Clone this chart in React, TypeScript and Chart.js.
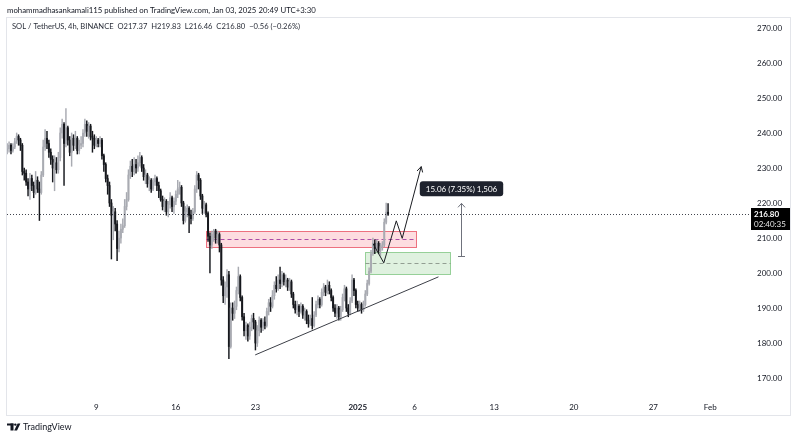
import React, { useEffect, useRef } from "react";
import { Chart, registerables } from "chart.js";

Chart.register(...registerables);

const FONT = "Lato, 'Noto Sans', sans-serif";
const TEXT = "#131722";

// ---- data (4h candles, x in days: Dec 1 = 1, Jan 1 = 32, Feb 1 = 63) ----
const LAST_CANDLE_DAY = 34 + 16 / 24;
const CANDLE_STEP_DAYS = 4 / 24;
const FIRST_OPEN = 235.0;

const closes = [
  235.5, 236.5, 235.0,
  236.0, 237.5, 239.0, 238.0, 236.5, 229.0, 228.5, 226.0, 224.0, 227.0,
  225.0, 223.0, 226.5, 224.0, 223.0, 228.0, 236.0, 238.5, 237.0, 234.5,
  232.5, 230.0, 231.5, 229.5, 233.0, 240.0, 242.5, 237.0, 241.5, 238.0,
  234.5, 238.5, 236.5, 238.5, 235.0, 236.5, 237.0, 240.0, 242.5, 240.5,
  242.0, 239.0, 238.5, 236.5, 238.0, 237.0, 238.0, 233.5, 231.0, 227.0,
  225.0, 220.0, 216.5, 217.5, 214.0, 207.0, 210.0, 212.5, 213.5, 219.0,
  221.0, 228.0, 230.5, 229.0, 231.0, 230.0, 231.5, 233.0, 230.0, 227.5,
  228.0, 225.5, 226.5, 224.0, 226.0, 227.0, 225.0, 223.5, 221.0, 219.0,
  220.5, 217.5, 219.5, 221.5, 219.0, 220.5, 222.5, 224.0, 224.5, 220.0,
  215.0, 217.5, 218.5, 216.5, 215.5, 217.5, 224.0, 228.0, 226.5, 222.0,
  218.5, 219.5, 217.0, 210.5, 208.0, 211.0, 212.0, 210.0, 211.0, 208.0,
  198.0, 193.5, 196.0, 199.5, 179.0, 190.0, 188.5, 190.5, 195.0, 199.0,
  193.0, 187.5, 183.5, 185.0, 182.0, 184.5, 187.0, 186.0, 180.0, 183.5,
  186.5, 184.5, 186.0, 185.0, 189.0, 191.5, 190.5, 193.5, 196.5, 195.5,
  198.0, 197.0, 199.5, 197.5, 198.0, 196.0, 197.5, 194.0, 191.0, 189.5,
  190.5, 189.0, 190.5, 188.0, 189.0, 186.5, 185.5, 187.0, 185.0, 188.0,
  191.0, 192.5, 191.0, 194.5, 196.0, 194.5, 196.5, 195.0, 193.0, 190.0,
  188.5, 190.0, 187.5, 189.5, 193.0, 195.5, 190.0, 188.5, 192.0, 198.0,
  195.0, 191.0, 190.0, 191.0, 189.5, 191.0, 194.0, 197.0, 200.5, 205.5,
  208.5, 207.0, 208.5, 206.5, 207.5, 208.0, 214.5, 217.37, 216.8,
];

const highs = [
  237.0, 237.5, 237.0,
  237, 238.5, 240, 239.5, 238.5, 237, 230, 229.5, 227, 228.5,
  228, 226, 229, 227.5, 226, 229, 238, 241, 240.5, 238,
  235.5, 233.5, 233.5, 233, 234.5, 241.5, 244, 243, 247, 242,
  239, 240, 239.5, 240.5, 239, 238, 239, 241, 244, 243.5,
  243, 242.5, 240.5, 239.5, 239, 238.5, 239, 238.5, 234, 231.5,
  228, 226, 221, 219, 218.5, 215, 212, 214, 215.5, 221,
  223, 229.5, 232, 232.5, 233, 232.5, 233.5, 234.5, 233.5, 231,
  229.5, 228.5, 227.5, 227, 227, 228, 227.5, 226, 224, 222,
  221.5, 221, 220.5, 223, 222, 221.5, 223.5, 226.5, 226, 225,
  220.5, 219, 219.5, 219, 218, 218.5, 225, 229, 228.5, 227,
  222.5, 220.5, 220, 217.5, 211.5, 212, 212.5, 212.5, 212, 211.5,
  208.5, 199, 197.5, 201, 200.5, 191.5, 191.5, 192, 196, 201.7,
  199.5, 193.5, 188.5, 186, 185.5, 186, 188, 188.5, 186.5, 185,
  187.5, 187, 187, 187.5, 190, 192.5, 193, 195, 197.5, 199,
  199.5, 201.7, 200.5, 200, 199.5, 198.5, 198.5, 198, 194.5, 192,
  192, 191, 191.5, 191, 190, 189.5, 188, 188, 193, 189,
  192, 193.5, 193, 195.5, 197, 196.5, 198, 197.5, 195.5, 193.5,
  191, 191, 190.5, 190.5, 194, 196.5, 196, 191, 193, 199.5,
  198.5, 195.5, 192, 192, 191.5, 192, 195, 198, 201.5, 206.5,
  210, 209.5, 209.5, 209, 208.5, 209, 215.5, 220, 219.83,
];

const lows = [
  234, 234.5, 234,
  234.5, 235.5, 237, 236.5, 235, 228, 226.5, 225, 222, 221,
  223.5, 221.5, 222.5, 223, 215, 222.5, 227.5, 235, 235.5, 233,
  231, 226, 223.5, 228.5, 228.5, 232, 238.5, 225, 236, 236.5,
  233.5, 230.5, 235, 235.5, 234, 234, 235.5, 236, 239, 239,
  238.5, 238, 234.5, 235.5, 236, 236, 236, 232.5, 229, 226,
  222.5, 219, 204, 209.5, 212, 203.5, 206, 208.5, 211.5, 213,
  218, 220.5, 227, 227.5, 228, 228.5, 229, 230.5, 229, 226.5,
  225.5, 224.5, 223.5, 223, 223.5, 225, 223.5, 221.5, 220.5, 218,
  217.5, 216.5, 216, 218.5, 217.5, 217, 219.5, 221.5, 222.5, 219,
  214, 214.5, 216, 211.5, 214, 215, 217, 223, 224, 221,
  217, 217, 216, 209, 200, 207, 209, 208.5, 208.5, 206,
  196.5, 191.5, 191, 193, 175.5, 178.5, 186.5, 187, 189.5, 194,
  192, 186.5, 182, 181, 180.5, 181, 183.5, 184, 178, 179,
  182, 183, 183.5, 184, 184.5, 188, 189, 190, 192.5, 194.5,
  195, 195.5, 196, 196.5, 196, 195, 195, 193, 190, 188.5,
  188, 187.5, 188.5, 187, 186.5, 185.5, 184.5, 185, 184, 184.5,
  187.5, 190, 190, 190.5, 193.5, 193.5, 194, 194, 192, 189,
  187.5, 187, 186.5, 186.5, 189, 192, 189, 187.5, 188, 191.5,
  193.5, 190, 189, 189, 188.5, 189, 190.5, 193.5, 196.5, 200,
  205, 205.5, 206, 205.5, 205, 206.5, 207.5, 214, 216.46,
];

const xTickDays = [9, 16, 23, 32, 37, 44, 51, 58, 63];
const xTickLabels = ["9", "16", "23", "2025", "6", "13", "20", "27", "Feb"];
const yTickValues = [170, 180, 190, 200, 210, 220, 230, 240, 250, 260, 270];

const lastPrice = 216.8;
const countdownText = "02:40:35";

const redZoneDays = [18.67, 37.14];
const redZonePrices = [207.3, 212.1];
const greenZoneDays = [32.6, 40.11];
const greenZonePrices = [199.6, 205.9];
const trendDays = [22.98, 39.1];
const trendPrices = [176.6, 198.9];
const pathDays = [33.36, 34.29, 35.39, 35.91, 37.58];
const pathPrices = [208.3, 202.9, 214.9, 209.9, 230.4];
const measureDay = 41.08;
const measurePrices = [204.9, 219.9];
const measureLabel = "15.06 (7.35%) 1,506";

const headerText = "mohammadhasankamali115 published on TradingView.com, Jan 03, 2025 20:49 UTC+3:30";
const legendText = "SOL / TetherUS, 4h, BINANCE  O217.37  H219.83  L216.46  C216.80  \u22120.56 (\u22120.26%)";

const UP_COLOR = "#a9abb2";
const DOWN_COLOR = "#16181d";

function buildCandles() {
  const n = closes.length;
  return closes.map((c, i) => {
    const o = i === 0 ? FIRST_OPEN : closes[i - 1];
    const t = LAST_CANDLE_DAY - (n - 1 - i) * CANDLE_STEP_DAYS;
    const hi = Math.max(highs[i], o, c);
    const lo = Math.min(lows[i], o, c);
    return { t, o, c, hi, lo };
  });
}

const annotationPlugin = {
  id: "tvAnnotations",
  beforeDatasetsDraw(chart: any) {
    const { ctx, chartArea, scales } = chart;
    const x = scales.x;
    const y = scales.y;
    ctx.save();
    ctx.beginPath();
    ctx.rect(chartArea.left, chartArea.top, chartArea.right - chartArea.left, chartArea.bottom - chartArea.top);
    ctx.clip();
    const zone = (days: number[], prices: number[], fill: string, stroke: string, midStroke: string) => {
      const x0 = Math.round(x.getPixelForValue(days[0])) + 0.5;
      const x1 = Math.round(x.getPixelForValue(days[1])) + 0.5;
      const y0 = Math.round(y.getPixelForValue(prices[1])) + 0.5;
      const y1 = Math.round(y.getPixelForValue(prices[0])) + 0.5;
      ctx.fillStyle = fill;
      ctx.fillRect(x0, y0, x1 - x0, y1 - y0);
      ctx.strokeStyle = stroke;
      ctx.lineWidth = 1;
      ctx.setLineDash([]);
      ctx.strokeRect(x0, y0, x1 - x0, y1 - y0);
      const ym = Math.round(y.getPixelForValue((prices[0] + prices[1]) / 2)) + 0.5;
      ctx.strokeStyle = midStroke;
      ctx.setLineDash([4, 3]);
      ctx.beginPath();
      ctx.moveTo(x0, ym);
      ctx.lineTo(x1, ym);
      ctx.stroke();
      ctx.setLineDash([]);
    };
    zone(redZoneDays, redZonePrices, "rgba(242,54,69,0.17)", "rgba(230,60,80,0.7)", "rgba(150,40,150,0.8)");
    zone(greenZoneDays, greenZonePrices, "rgba(76,175,80,0.18)", "rgba(76,175,80,0.55)", "rgba(120,130,120,0.75)");
    ctx.restore();
  },
  afterDatasetsDraw(chart: any) {
    const { ctx, chartArea, scales } = chart;
    const x = scales.x;
    const y = scales.y;
    ctx.save();
    // last price dotted line
    const py = Math.round(y.getPixelForValue(lastPrice)) + 0.5;
    ctx.strokeStyle = "rgba(19,23,34,0.8)";
    ctx.lineWidth = 1;
    ctx.setLineDash([1, 2]);
    ctx.beginPath();
    ctx.moveTo(chartArea.left, py);
    ctx.lineTo(chartArea.right, py);
    ctx.stroke();
    ctx.setLineDash([]);

    // trend line
    ctx.strokeStyle = "#3c3f47";
    ctx.lineWidth = 1;
    ctx.beginPath();
    ctx.moveTo(x.getPixelForValue(trendDays[0]), y.getPixelForValue(trendPrices[0]));
    ctx.lineTo(x.getPixelForValue(trendDays[1]), y.getPixelForValue(trendPrices[1]));
    ctx.stroke();

    // projection path with arrow
    ctx.strokeStyle = "#1b1d22";
    ctx.beginPath();
    pathDays.forEach((d, i) => {
      const px = x.getPixelForValue(d);
      const pyy = y.getPixelForValue(pathPrices[i]);
      if (i === 0) ctx.moveTo(px, pyy);
      else ctx.lineTo(px, pyy);
    });
    ctx.stroke();
    const n = pathDays.length;
    const ex = x.getPixelForValue(pathDays[n - 1]);
    const ey = y.getPixelForValue(pathPrices[n - 1]);
    const sx = x.getPixelForValue(pathDays[n - 2]);
    const sy = y.getPixelForValue(pathPrices[n - 2]);
    const ang = Math.atan2(ey - sy, ex - sx);
    const al = 6;
    ctx.beginPath();
    ctx.moveTo(ex - al * Math.cos(ang - 0.5), ey - al * Math.sin(ang - 0.5));
    ctx.lineTo(ex, ey);
    ctx.lineTo(ex - al * Math.cos(ang + 0.5), ey - al * Math.sin(ang + 0.5));
    ctx.stroke();

    // measure tool
    const mx = Math.round(x.getPixelForValue(measureDay)) + 0.5;
    const mTop = y.getPixelForValue(measurePrices[1]);
    const mBot = Math.round(y.getPixelForValue(measurePrices[0])) + 0.5;
    ctx.strokeStyle = "#6f727c";
    ctx.beginPath();
    ctx.moveTo(mx, mTop);
    ctx.lineTo(mx, mBot);
    ctx.moveTo(mx - 3.5, mTop + 4);
    ctx.lineTo(mx, mTop);
    ctx.lineTo(mx + 3.5, mTop + 4);
    ctx.moveTo(mx - 3.5, mBot);
    ctx.lineTo(mx + 3.5, mBot);
    ctx.stroke();
    ctx.font = `8px ${FONT}`;
    const tw = ctx.measureText(measureLabel).width;
    const bw = tw + 12;
    const bh = 15;
    const bx = mx - bw / 2;
    const by = mTop - 7 - bh;
    ctx.fillStyle = "#1e222d";
    ctx.beginPath();
    if ((ctx as any).roundRect) (ctx as any).roundRect(bx, by, bw, bh, 3);
    else ctx.rect(bx, by, bw, bh);
    ctx.fill();
    ctx.fillStyle = "#ffffff";
    ctx.textAlign = "center";
    ctx.textBaseline = "middle";
    ctx.fillText(measureLabel, mx, by + bh / 2 + 0.5);
    ctx.restore();
  },
  afterDraw(chart: any) {
    const { ctx, chartArea, scales } = chart;
    const y = scales.y;
    ctx.save();
    // last price label
    const py = y.getPixelForValue(lastPrice);
    ctx.fillStyle = "#000000";
    ctx.fillRect(chartArea.right + 1, Math.round(py) - 6, 39, 22);
    ctx.textAlign = "left";
    ctx.textBaseline = "middle";
    ctx.fillStyle = "#ffffff";
    ctx.font = `bold 8px ${FONT}`;
    ctx.fillText(lastPrice.toFixed(2), chartArea.right + 4, Math.round(py) + 0.5);
    ctx.fillStyle = "#e6e6e6";
    ctx.font = `8px ${FONT}`;
    ctx.fillText(countdownText, chartArea.right + 4, Math.round(py) + 10.5);

    // frame
    ctx.strokeStyle = "#e3e5ea";
    ctx.lineWidth = 1;
    ctx.strokeRect(6.5, 17.5, 784, 398);

    // header texts
    ctx.fillStyle = TEXT;
    ctx.font = `7.8px ${FONT}`;
    ctx.textBaseline = "middle";
    ctx.fillText(headerText, 7, 10);
    ctx.fillStyle = "#2a2e39";
    ctx.font = `7.6px ${FONT}`;
    ctx.fillText(legendText, 12, 27);

    // TradingView logo
    ctx.fillStyle = TEXT;
    ctx.fillRect(7, 423.5, 6.5, 2);
    ctx.fillRect(10.5, 423.5, 3, 7);
    ctx.beginPath();
    ctx.arc(15.3, 424.6, 1.2, 0, Math.PI * 2);
    ctx.fill();
    ctx.beginPath();
    ctx.moveTo(14.2, 430.5);
    ctx.lineTo(17.6, 423.5);
    ctx.lineTo(20.4, 423.5);
    ctx.lineTo(17.0, 430.5);
    ctx.closePath();
    ctx.fill();
    ctx.font = `9px ${FONT}`;
    ctx.fillText("TradingView", 23, 427.5);
    ctx.restore();
  },
};

export default function App() {
  const canvasRef = useRef<HTMLCanvasElement | null>(null);

  useEffect(() => {
    if (!canvasRef.current) return;
    const candles = buildCandles();
    const colors = candles.map((k) => (k.c >= k.o ? UP_COLOR : DOWN_COLOR));
    const chart = new Chart(canvasRef.current, {
      type: "bar",
      data: {
        datasets: [
          {
            label: "wick",
            data: candles.map((k) => ({ x: k.t, y: [k.lo, k.hi] })) as any,
            backgroundColor: colors,
            borderWidth: 0,
            barThickness: 0.8,
            grouped: false,
            order: 2,
          } as any,
          {
            label: "body",
            data: candles.map((k) => ({ x: k.t, y: [Math.min(k.o, k.c), Math.max(k.o, k.c)] })) as any,
            backgroundColor: colors,
            borderWidth: 0,
            barThickness: 1.3,
            minBarLength: 1,
            grouped: false,
            order: 1,
          } as any,
        ],
      },
      options: {
        responsive: false,
        animation: false,
        events: [],
        layout: { padding: { left: 7, top: 17, right: 0, bottom: 0 } },
        plugins: { legend: { display: false }, tooltip: { enabled: false } },
        scales: {
          x: {
            type: "linear",
            min: 1.15,
            max: 66.5,
            offset: false,
            grid: { display: false, drawTicks: false },
            border: { display: false },
            afterFit: (s: any) => {
              s.height = 41;
            },
            afterBuildTicks: (s: any) => {
              s.ticks = xTickDays.map((v) => ({ value: v }));
            },
            ticks: {
              autoSkip: false,
              maxRotation: 0,
              padding: 5,
              color: TEXT,
              font: (c: any) => ({
                family: FONT,
                size: 8,
                weight: c.tick && c.tick.value === 32 ? "bold" : "normal",
              }),
              callback: (v: any) => {
                const i = xTickDays.indexOf(Number(v));
                return i >= 0 ? xTickLabels[i] : "";
              },
            },
          },
          y: {
            type: "linear",
            position: "right",
            min: 164.29,
            max: 273.14,
            stacked: false,
            grid: { display: false, drawTicks: false },
            border: { display: false },
            afterFit: (s: any) => {
              s.width = 50;
            },
            afterBuildTicks: (s: any) => {
              s.ticks = yTickValues.map((v) => ({ value: v }));
            },
            ticks: {
              padding: 7,
              color: TEXT,
              font: { family: FONT, size: 8 },
              callback: (v: any) => Number(v).toFixed(2),
            },
          },
        },
      },
      plugins: [annotationPlugin],
    } as any);
    return () => chart.destroy();
  }, []);

  return (
    <div style={{ position: "fixed", left: 0, top: 0, width: 800, height: 439, background: "#ffffff" }}>
      <canvas ref={canvasRef} width={800} height={439} style={{ display: "block" }} />
    </div>
  );
}
